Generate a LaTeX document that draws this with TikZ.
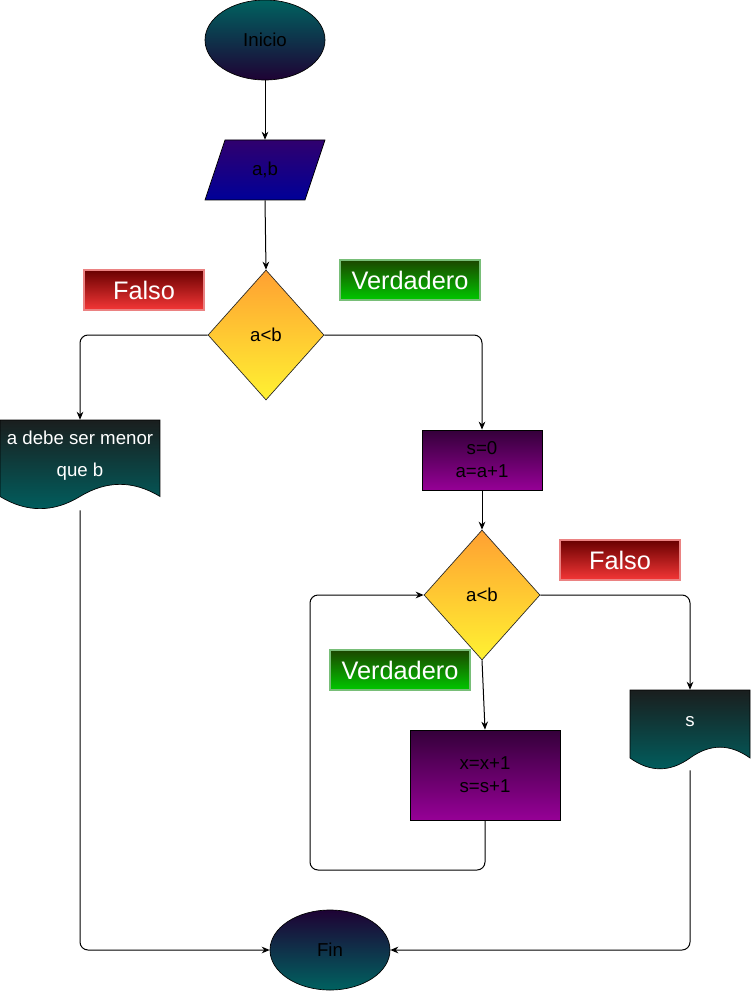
\documentclass[tikz,border=0pt]{standalone}
\usepackage{fontspec}
\setmainfont{Liberation Sans}
\usetikzlibrary{shapes.geometric,arrows.meta}

% palette
\definecolor{tealtone}{RGB}{0,98,96}
\definecolor{nightviolet}{RGB}{30,2,52}
\definecolor{inkviolet}{RGB}{48,0,110}
\definecolor{deepblue}{RGB}{0,0,152}
\definecolor{ambertop}{RGB}{255,160,50}
\definecolor{lemonbot}{RGB}{255,242,50}
\definecolor{plumtop}{RGB}{52,0,58}
\definecolor{plumbot}{RGB}{150,0,150}
\definecolor{wineTop}{RGB}{105,0,0}
\definecolor{wineBot}{RGB}{245,55,55}
\definecolor{wineEdge}{RGB}{235,130,130}
\definecolor{leafTop}{RGB}{28,70,0}
\definecolor{leafBot}{RGB}{0,200,0}
\definecolor{leafEdge}{RGB}{120,190,120}
\definecolor{slateTop}{RGB}{26,30,30}
\definecolor{slateBot}{RGB}{0,96,96}

\tikzset{
  bodyfont/.style={font=\fontsize{14}{17.25}\selectfont},
  terminal/.style={ellipse, draw=black, line width=0.5pt, inner sep=0pt,
    minimum width=90pt, minimum height=60pt, bodyfont},
  decision/.style={diamond, draw=black!85, line width=0.5pt, inner sep=0pt,
    minimum width=87pt, minimum height=97.5pt, top color=ambertop,
    bottom color=lemonbot, bodyfont},
  process/.style={rectangle, draw=black, line width=0.6pt, align=center,
    top color=plumtop, bottom color=plumbot, bodyfont},
  anchorbox/.style={rectangle, inner sep=0pt},
  iobox/.style={draw=black, line width=0.5pt, top color=inkviolet, bottom color=deepblue},
  docbox/.style={draw=black, line width=0.5pt, top color=slateTop, bottom color=slateBot},
  doctext/.style={text=white, align=center, font=\fontsize{14}{24}\selectfont},
  tag/.style={rectangle, inner sep=0pt, minimum height=30pt, text=white,
    line width=0.8pt, font=\fontsize{19}{22}\selectfont},
  notag/.style={tag, minimum width=90pt, draw=wineEdge, top color=wineTop, bottom color=wineBot},
  yestag/.style={tag, minimum width=105pt, draw=leafEdge, top color=leafTop, bottom color=leafBot},
  conn/.style={draw=black, line width=0.75pt, -{Stealth[length=6pt,width=5pt]}},
  elbow/.style={rounded corners=6pt}
}

\begin{document}
\begin{tikzpicture}[x=0.75pt,y=-0.75pt]
\useasboundingbox (0,0) rectangle (751,991);

% start / end
\node[terminal, top color=tealtone, bottom color=nightviolet] (start) at (265,40) {Inicio};
\node[terminal, top color=nightviolet, bottom color=tealtone] (fin) at (330,950) {Fin};

% input a,b
\path[iobox] (225,140) -- (325,140) -- (305,200) -- (205,200) -- cycle;
\node[anchorbox, minimum width=90pt, minimum height=45pt, bodyfont] (ab) at (265,170) {a,b};

% first test
\node[decision] (d1) at (266,335) {a<b};
\node[notag] (no1) at (144,290) {Falso};
\node[yestag] (yes1) at (410,280) {Verdadero};

% message document
\path[docbox] (0,420) -- (160,420) -- (160,496.5)
  .. controls (133.33,480.3) and (106.67,480.3) .. (80,496.5)
  .. controls (53.33,512.7) and (26.67,512.7) .. (0,496.5) -- cycle;
\node[anchorbox, minimum width=120pt, minimum height=67.5pt] (doc1) at (80,465) {};
\node[doctext] (doc1txt) at (80,456) {a debe ser menor\\que b};

% initialisation
\node[process, minimum width=90pt, minimum height=45pt] (r1) at (482,460) {s=0\\a=a+1};

% loop test
\node[decision] (d2) at (482,595) {a<b};
\node[notag] (no2) at (620,560) {Falso};
\node[yestag] (yes2) at (400,670) {Verdadero};

% loop body
\node[process, minimum width=112.5pt, minimum height=67.5pt] (r2) at (485,775) {x=x+1\\s=s+1};

% output document
\path[docbox] (630,690) -- (750,690) -- (750,758)
  .. controls (730,743.6) and (710,743.6) .. (690,758)
  .. controls (670,772.4) and (650,772.4) .. (630,758) -- cycle;
\node[anchorbox, minimum width=90pt, minimum height=60pt] (doc2) at (690,730) {};
\node[doctext] (doc2txt) at (690,722) {s};

\coordinate (loopbl) at (310,870);

% connectors
\draw[conn] (start.south) -- (ab.north);
\draw[conn] (ab.south) -- (d1.north);
\draw[conn, elbow] (d1.west) -| (doc1.north);
\draw[conn, elbow] (d1.east) -| (r1.north);
\draw[conn] (r1.south) -- (d2.north);
\draw[conn] (d2.south) -- (r2.north);
\draw[conn, elbow] (r2.south) |- (loopbl) |- (d2.west);
\draw[conn, elbow] (d2.east) -| (doc2.north);
\draw[conn, elbow] (doc1.south) |- (fin.west);
\draw[conn, elbow] (doc2.south) |- (fin.east);
\end{tikzpicture}
\end{document}
